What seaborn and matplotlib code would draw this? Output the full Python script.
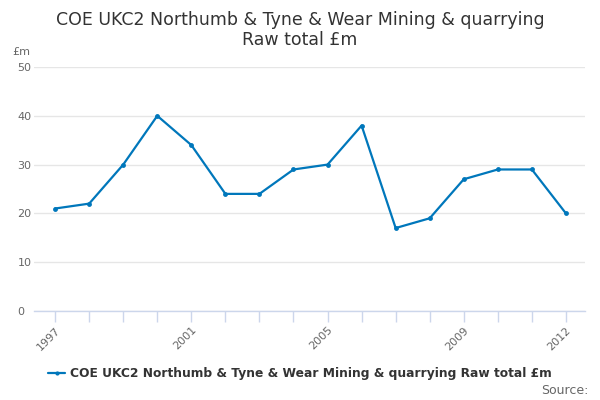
import matplotlib
matplotlib.use("Agg")
import matplotlib.pyplot as plt
import seaborn as sns
import pandas as pd

years = [1997, 1998, 1999, 2000, 2001, 2002, 2003, 2004, 2005, 2006, 2007, 2008, 2009, 2010, 2011, 2012]
values = [21, 22, 30, 40, 34, 24, 24, 29, 30, 38, 17, 19, 27, 29, 29, 20]
tick_labels = ["1997", "2001", "2005", "2009", "2012"]
series_name = "COE UKC2 Northumb & Tyne & Wear Mining & quarrying Raw total £m"
title = "COE UKC2 Northumb & Tyne & Wear Mining & quarrying\nRaw total £m"

sns.set_theme(style="white")
plt.rcParams['font.family'] = ['DejaVu Sans']

df = pd.DataFrame({"year": years, "value": values})

fig = plt.figure(figsize=(6, 4), dpi=100)
ax = fig.add_axes([34/600, 1-311/400, (585-34)/600, (311-67)/400])

sns.lineplot(data=df, x="year", y="value", ax=ax, color="#0077bb", linewidth=1.6,
             marker="o", markersize=3.5, markeredgewidth=0, label=series_name, legend=False)

ax.set_xlim(1996.38, 2012.56)
ax.set_ylim(0, 50)
ax.set_yticks([0, 10, 20, 30, 40, 50])
ax.yaxis.grid(True, color="#e6e6e6", linewidth=1)
ax.set_axisbelow(True)
for s in ["top", "right", "left"]:
    ax.spines[s].set_visible(False)
ax.spines["bottom"].set_color("#ccd6eb")
ax.spines["bottom"].set_linewidth(1)

ax.set_xticks(years)
ax.set_xticklabels([str(y) if str(y) in tick_labels else "" for y in years],
                   rotation=45, ha="right", rotation_mode="anchor", fontsize=8, color="#666666")
ax.tick_params(axis="x", which="major", direction="out", length=8, width=1, color="#ccd6eb", pad=2, bottom=True)
ax.tick_params(axis="y", length=0, labelsize=8, labelcolor="#666666", pad=12)
for lbl in ax.get_yticklabels():
    lbl.set_horizontalalignment("left")
ax.set_xlabel("")
ax.set_ylabel("")

fig.text(12/600, 1-52/400, "£m", fontsize=8, color="#666666", va="center", ha="left")
fig.text(0.5, 1-30/400, title, fontsize=12.5, color="#333333", ha="center", va="center", linespacing=1.1)

handle = plt.Line2D([], [], color="#0077bb", linewidth=1.6, marker="o", markersize=3, markeredgewidth=0)
fig.legend([handle], [series_name], loc="center", bbox_to_anchor=(0.5, 1-374/400), frameon=False,
           prop={"size": 8.8, "weight": "bold"}, labelcolor="#333333", handlelength=1.4, handletextpad=0.4)
fig.text(589/600, 1-390/400, "Source:", fontsize=9, color="#666666", ha="right", va="center")

fig.savefig("out.png", dpi=100)
